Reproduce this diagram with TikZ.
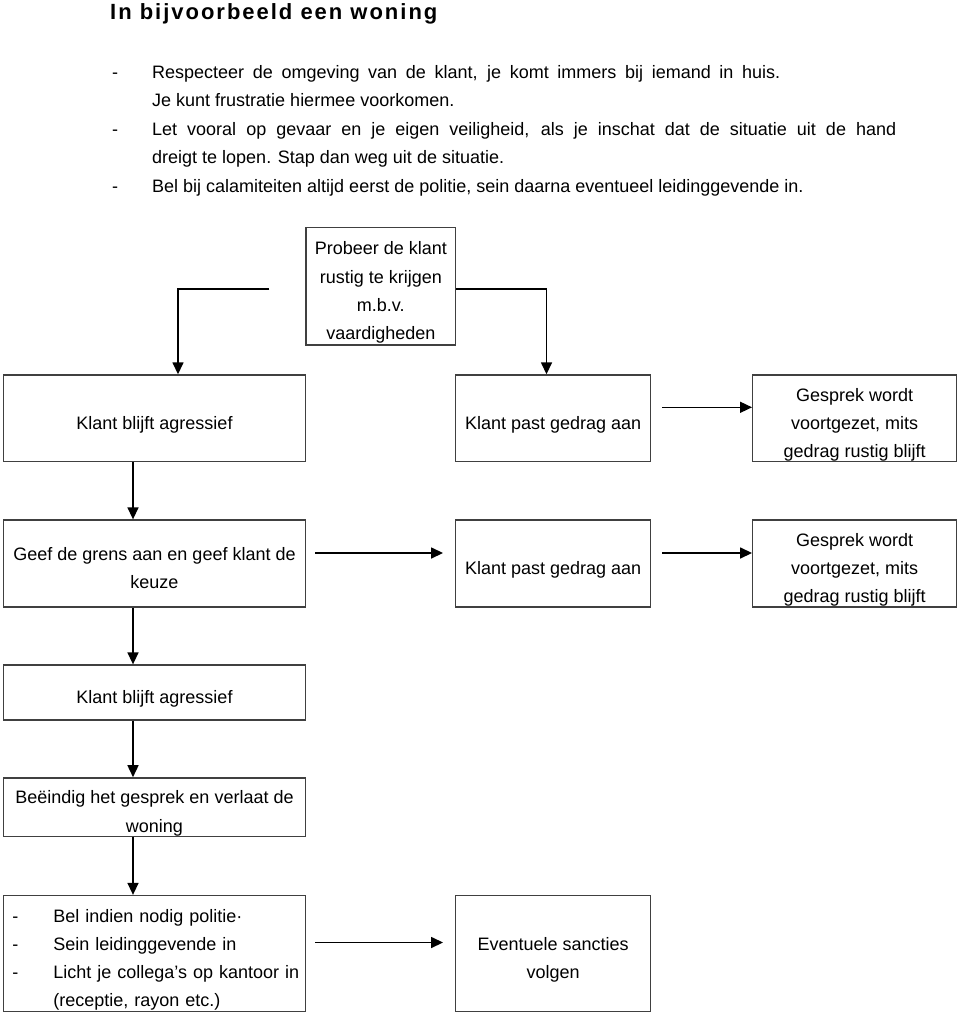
\documentclass[tikz,border=0pt]{standalone}
\usepackage{fontspec}
\setmainfont{Liberation Sans}
\usetikzlibrary{arrows.meta}
\newcommand\tst{\rule{0pt}{26pt}}
\newcommand\bst{\rule[-4pt]{0pt}{4pt}}
\newcommand\dsh{\hspace*{9pt}\makebox[41pt][l]{-}}
\begin{document}
\begin{tikzpicture}[x=1pt,y=-1pt,
  box/.style={draw=black!75, line width=1.3pt, inner sep=0pt, align=center,
    font=\fontsize{18}{28.3}\selectfont},
  arr/.style={line width=1.5pt, -{Triangle[length=12pt,width=11pt]}},
  txt/.style={anchor=base west, inner sep=0pt, font=\fontsize{18}{28.3}\selectfont},
  ttl/.style={anchor=base west, inner sep=0pt,
    font=\fontsize{22}{26}\selectfont\bfseries\addfontfeature{LetterSpace=9}}]
\useasboundingbox (0,0) rectangle (960,1014);

% title and introduction
\node[ttl] (title) at (110,19.5) {In bijvoorbeeld een woning};
\node[txt] (d1) at (112,78.5) {-};
\node[txt] (l1) at (152,78.5) {\makebox[628pt][s]{Respecteer de omgeving van de klant, je komt immers bij iemand in huis.}};
\node[txt] (l2) at (152,107) {Je kunt frustratie hiermee voorkomen.};
\node[txt] (d2) at (112,135.5) {-};
\node[txt] (l3) at (152,135.5) {\makebox[744pt][s]{Let vooral op gevaar en je eigen veiligheid, als je inschat dat de situatie uit de hand}};
\node[txt] (l4) at (152,164) {dreigt te lopen. Stap dan weg uit de situatie.};
\node[txt] (d3) at (112,192.5) {-};
\node[txt] (l5) at (152,192.5) {Bel bij calamiteiten altijd eerst de politie, sein daarna eventueel leidinggevende in.};

% boxes
\node[box, minimum width=149.7pt, minimum height=117.7pt] (P) at (380.8,286.2)
  {\tst Probeer de klant\\rustig te krijgen\\m.b.v.\\vaardigheden\bst};
\node[box, minimum width=302.4pt, minimum height=86.7pt] (A) at (154.5,418.3)
  {\tst Klant blijft agressief\bst};
\node[box, minimum width=195pt, minimum height=86.7pt] (B) at (553.2,418.3)
  {\tst Klant past gedrag aan\bst};
\node[box, minimum width=204pt, minimum height=86.7pt] (C) at (854.7,418.3)
  {\tst Gesprek wordt\\voortgezet, mits\\gedrag rustig blijft\bst};
\node[box, minimum width=302.4pt, minimum height=87pt] (D) at (154.5,563.5)
  {\tst Geef de grens aan en geef klant de\\keuze\bst};
\node[box, minimum width=195pt, minimum height=87pt] (E) at (553.2,563.5)
  {\tst Klant past gedrag aan\bst};
\node[box, minimum width=204pt, minimum height=87pt] (F) at (854.7,563.5)
  {\tst Gesprek wordt\\voortgezet, mits\\gedrag rustig blijft\bst};
\node[box, minimum width=302.4pt, minimum height=55pt] (G) at (154.5,692.5)
  {\tst Klant blijft agressief\bst};
\node[box, minimum width=302.4pt, minimum height=58pt] (H) at (154.5,807)
  {\tst Beëindig het gesprek en verlaat de\\woning\bst};
\node[box, align=left, text width=302.4pt, minimum height=116pt] (I) at (154.5,953.5)
  {\noindent\tst\dsh Bel indien nodig politie·\\
   \dsh Sein leidinggevende in\\
   \dsh Licht je collega’s op kantoor in\\
   \hspace*{50pt}(receptie, rayon etc.)\bst};
\node[box, minimum width=195pt, minimum height=116pt] (J) at (553.2,953.5)
  {\tst Eventuele sancties\\volgen\bst};

% connectors
\coordinate (cx) at (133,0);
\coordinate (pl) at (178,0);
\coordinate (pr) at (546.5,0);
\draw[arr] ([xshift=-36pt,yshift=-3pt]P.west) -| (A.north -| pl);
\draw[arr] ([yshift=-3pt]P.east) -| (B.north -| pr);
\draw[arr, shorten <=11pt] ([yshift=11pt]B.east) -- ([yshift=11pt]C.west);
\draw[arr, shorten <=9pt, shorten >=12pt] ([yshift=10.5pt]D.east) -- ([yshift=10.5pt]E.west);
\draw[arr, shorten <=11pt] ([yshift=10.5pt]E.east) -- ([yshift=10.5pt]F.west);
\draw[arr] (A.south -| cx) -- (D.north -| cx);
\draw[arr] (D.south -| cx) -- (G.north -| cx);
\draw[arr] (G.south -| cx) -- (H.north -| cx);
\draw[arr] (H.south -| cx) -- (I.north -| cx);
\draw[arr, shorten <=9pt, shorten >=12pt] ([yshift=11pt]I.east) -- ([yshift=11pt]J.west);
\end{tikzpicture}
\end{document}
